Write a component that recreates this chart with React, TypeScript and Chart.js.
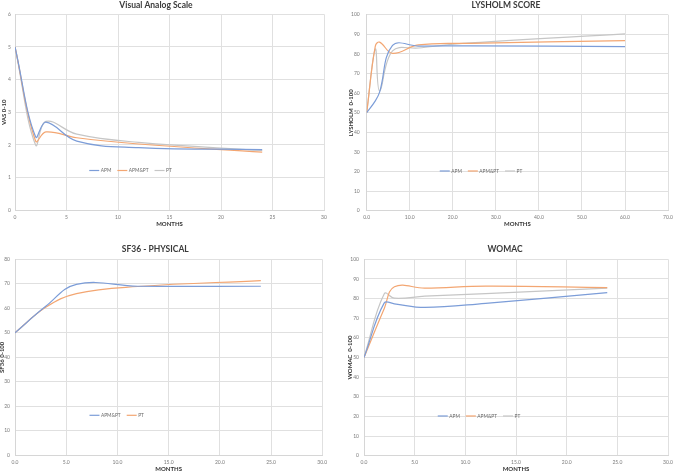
import React, { useEffect, useRef } from "react";
import { Chart, registerables } from "chart.js";
Chart.register(...registerables);

const FONT = "Lato, 'Liberation Sans', sans-serif";
const BLUE = "#7C9DD8";
const ORANGE = "#F3A672";
const GRAY = "#C6C6C6";

// ---- Visual Analog Scale ----
const vasMonths = [0, 2, 3, 6, 12, 24];
const vasAPM = [5, 2.25, 2.7, 2.12, 1.92, 1.86];
const vasAPMPT = [5, 2.12, 2.4, 2.22, 2.03, 1.78];
const vasPT = [5, 2.0, 2.72, 2.33, 2.08, 1.83];
const vasXTicks = [0, 5, 10, 15, 20, 25, 30];
const vasYTicks = [0, 1, 2, 3, 4, 5, 6];

// ---- Lysholm ----
const lysMonths = [0, 2, 3, 6, 12, 24, 60];
const lysAPM = [50, 56, 60.5, 84.3, 84, 84.1, 83.7];
const lysAPMPT = [50, 84, 86, 80.3, 84.6, 85.4, 86.8];
const lysPT = [50, 82.5, 61, 81.5, 83, 85.6, 90.2];
const lysXTicks = [0, 10, 20, 30, 40, 50, 60, 70];
const lysYTicks = [0, 10, 20, 30, 40, 50, 60, 70, 80, 90, 100];

// ---- SF36 physical ----
const sfMonths = [0, 3, 6, 12, 24];
const sfAPMPT = [50, 60.8, 69.8, 69, 69];
const sfPT = [50, 60.4, 66, 68.9, 71.3];
const sfXTicks = [0, 5, 10, 15, 20, 25, 30];
const sfYTicks = [0, 10, 20, 30, 40, 50, 60, 70, 80];

// ---- WOMAC ----
const woMonths = [0, 2, 3, 6, 12, 24];
const woAPM = [50, 77.8, 77.3, 75.5, 77.6, 83];
const woAPMPT = [50, 75, 86, 85.3, 86.3, 85.6];
const woPT = [50, 82.5, 80.2, 81.2, 82.5, 85.3];
const woXTicks = [0, 5, 10, 15, 20, 25, 30];
const woYTicks = [0, 10, 20, 30, 40, 50, 60, 70, 80, 90, 100];

const pts = (xs: number[], ys: number[]) => xs.map((x, i) => ({ x, y: ys[i] }));

const annot = {
  id: "annot",
  afterDraw(chart: any, _a: any, opts: any) {
    const ctx = chart.ctx;
    ctx.save();
    ctx.font = `bold ${opts.titleSize}px ${FONT}`;
    ctx.fillStyle = "#3a3a3a";
    ctx.textAlign = "center";
    ctx.textBaseline = "middle";
    ctx.fillText(opts.title, opts.titleX, opts.titleY);
    ctx.font = `${opts.legendSize}px ${FONT}`;
    ctx.textAlign = "left";
    const items = chart.data.datasets.map((d: any) => ({ label: d.label, color: d.borderColor, w: ctx.measureText(d.label).width }));
    const lineLen = 10, gap = 1.5, itemGap = 6;
    const total = items.reduce((s: number, it: any) => s + lineLen + gap + it.w, 0) + itemGap * (items.length - 1);
    let x = opts.legendX - total / 2;
    const y = opts.legendY;
    for (const it of items) {
      ctx.strokeStyle = it.color;
      ctx.lineWidth = 1.2;
      ctx.beginPath();
      ctx.moveTo(x, y);
      ctx.lineTo(x + lineLen, y);
      ctx.stroke();
      x += lineLen + gap;
      ctx.fillStyle = "#6b6b6b";
      ctx.fillText(it.label, x, y + 0.3);
      x += it.w + itemGap;
    }
    ctx.restore();
  },
};

type Spec = {
  W: number; H: number; L: number; R: number; T: number; B: number;
  title: string; titleX: number; titleY: number;
  legendX: number; legendY: number;
  yTitle: string; yTitlePad: number; yTickPad: number; xTitlePad: number;
  xTicks: number[]; yTicks: number[]; xDec: number;
  datasets: any[];
};

function makeConfig(s: Spec): any {
  return {
    type: "line",
    data: { datasets: s.datasets },
    plugins: [annot],
    options: {
      responsive: false,
      animation: false,
      layout: { padding: { left: 0, top: s.T, right: s.W - s.R, bottom: 0 } },
      elements: { point: { radius: 0 }, line: { tension: 0.4, borderWidth: 1.2 } },
      plugins: {
        legend: { display: false },
        title: { display: false },
        tooltip: { enabled: false },
        annot: {
          title: s.title, titleX: s.titleX, titleY: s.titleY, titleSize: 8.5,
          legendX: s.legendX, legendY: s.legendY, legendSize: 4.8,
        },
      },
      scales: {
        x: {
          type: "linear",
          min: s.xTicks[0],
          max: s.xTicks[s.xTicks.length - 1],
          afterBuildTicks: (sc: any) => { sc.ticks = s.xTicks.map((v) => ({ value: v })); },
          afterFit: (sc: any) => { sc.height = s.H - s.B; },
          grid: { color: "#e0e0e0", lineWidth: 1, drawTicks: false },
          border: { color: "#d6d6d6" },
          ticks: {
            padding: 4,
            color: "#7a7a7a",
            font: { size: 5, family: FONT },
            maxRotation: 0,
            autoSkip: false,
            callback: (v: any) => Number(v).toFixed(s.xDec),
          },
          title: {
            display: true,
            text: "MONTHS",
            color: "#333",
            font: { size: 6, weight: "bold", family: FONT, lineHeight: 1 },
            padding: { top: 0, bottom: s.xTitlePad },
          },
        },
        y: {
          type: "linear",
          min: s.yTicks[0],
          max: s.yTicks[s.yTicks.length - 1],
          afterBuildTicks: (sc: any) => { sc.ticks = s.yTicks.map((v) => ({ value: v })); },
          afterFit: (sc: any) => { sc.width = s.L; },
          grid: { color: "#e0e0e0", lineWidth: 1, drawTicks: false },
          border: { color: "#d6d6d6" },
          ticks: {
            padding: s.yTickPad,
            color: "#7a7a7a",
            font: { size: 5, family: FONT },
            autoSkip: false,
            callback: (v: any) => String(v),
          },
          title: {
            display: true,
            text: s.yTitle,
            color: "#333",
            font: { size: 6, weight: "bold", family: FONT, lineHeight: 1 },
            padding: { top: s.yTitlePad, bottom: 0 },
          },
        },
      },
    },
  };
}

const ds = (label: string, color: string, xs: number[], ys: number[]) => ({
  label,
  data: pts(xs, ys),
  borderColor: color,
  backgroundColor: color,
  fill: false,
});

const specs: (Spec & { left: number; top: number })[] = [
  {
    left: 0, top: 0, W: 338, H: 235, L: 15, R: 324, T: 14.3, B: 210.3,
    title: "Visual Analog Scale", titleX: 156, titleY: 5.5,
    legendX: 130.5, legendY: 170.5,
    yTitle: "VAS 0-10", yTitlePad: 1, yTickPad: 4, xTitlePad: 8,
    xTicks: vasXTicks, yTicks: vasYTicks, xDec: 0,
    datasets: [
      ds("APM", BLUE, vasMonths, vasAPM),
      ds("APM&PT", ORANGE, vasMonths, vasAPMPT),
      ds("PT", GRAY, vasMonths, vasPT),
    ],
  },
  {
    left: 337, top: 0, W: 340, H: 235, L: 29.7, R: 334.3, T: 14.7, B: 210.7,
    title: "LYSHOLM SCORE", titleX: 169, titleY: 5.5,
    legendX: 144, legendY: 171,
    yTitle: "LYSHOLM  0-100", yTitlePad: 11, yTickPad: 7, xTitlePad: 8,
    xTicks: lysXTicks, yTicks: lysYTicks, xDec: 1,
    datasets: [
      ds("APM", BLUE, lysMonths, lysAPM),
      ds("APM&PT", ORANGE, lysMonths, lysAPMPT),
      ds("PT", GRAY, lysMonths, lysPT),
    ],
  },
  {
    left: 0, top: 235, W: 338, H: 236, L: 15, R: 322.3, T: 24.3, B: 220.3,
    title: "SF36 - PHYSICAL", titleX: 155.3, titleY: 14.5,
    legendX: 116.7, legendY: 180.3,
    yTitle: "SF36 0-100", yTitlePad: -1, yTickPad: 5, xTitlePad: -1,
    xTicks: sfXTicks, yTicks: sfYTicks, xDec: 1,
    datasets: [
      ds("APM&PT", BLUE, sfMonths, sfAPMPT),
      ds("PT", ORANGE, sfMonths, sfPT),
    ],
  },
  {
    left: 337, top: 235, W: 340, H: 236, L: 27, R: 334.3, T: 24.3, B: 220.7,
    title: "WOMAC", titleX: 168, titleY: 14.5,
    legendX: 142, legendY: 181,
    yTitle: "WOMAC  0-100", yTitlePad: 9.7, yTickPad: 5, xTitlePad: -1,
    xTicks: woXTicks, yTicks: woYTicks, xDec: 1,
    datasets: [
      ds("APM", BLUE, woMonths, woAPM),
      ds("APM&PT", ORANGE, woMonths, woAPMPT),
      ds("PT", GRAY, woMonths, woPT),
    ],
  },
];

function Panel({ spec }: { spec: Spec & { left: number; top: number } }) {
  const ref = useRef<HTMLCanvasElement | null>(null);
  useEffect(() => {
    if (!ref.current) return;
    const chart = new Chart(ref.current, makeConfig(spec));
    return () => chart.destroy();
  }, [spec]);
  return (
    <canvas
      ref={ref}
      width={spec.W}
      height={spec.H}
      style={{ position: "absolute", left: spec.left, top: spec.top, width: spec.W, height: spec.H, display: "block" }}
    />
  );
}

export default function App() {
  return (
    <div style={{ position: "absolute", left: 0, top: 0, width: 677, height: 471, background: "#fff", overflow: "hidden" }}>
      {specs.map((s, i) => (
        <Panel key={i} spec={s} />
      ))}
    </div>
  );
}
